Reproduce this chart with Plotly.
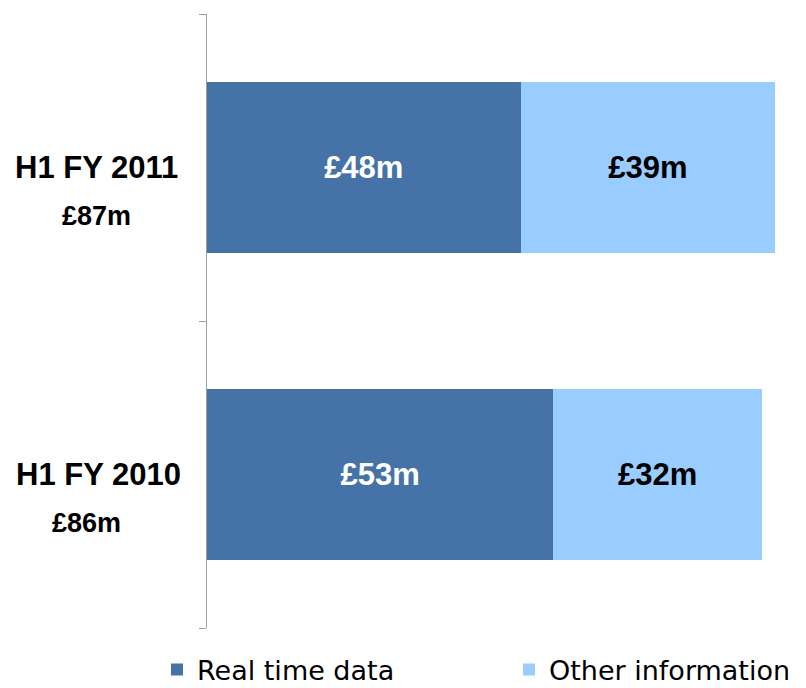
import plotly.graph_objects as go

categories = ["H1 FY 2010", "H1 FY 2011"]
totals = ["£86m", "£87m"]
real_time = [53, 48]
other_info = [32, 39]
series_names = ["Real time data", "Other information"]

dark = "#4573A7"
light = "#99CCFF"

fig = go.Figure()
fig.add_trace(go.Bar(
    y=categories, x=real_time, orientation="h", name=series_names[0],
    marker=dict(color=dark, line=dict(width=0)),
    text=[f"£{v}m" for v in real_time], textposition="inside",
    insidetextanchor="middle",
    textfont=dict(family="Liberation Sans", size=31, color="white", weight="bold"),
    hoverinfo="skip", legend="legend",
))
fig.add_trace(go.Bar(
    y=categories, x=other_info, orientation="h", name=series_names[1],
    marker=dict(color=light, line=dict(width=0)),
    text=[f"£{v}m" for v in other_info], textposition="inside",
    insidetextanchor="middle",
    textfont=dict(family="Liberation Sans", size=31, color="black", weight="bold"),
    hoverinfo="skip", legend="legend2",
))

annotations = []
label_x = [-0.181, -0.185]
total_x = [-0.201, -0.185]
for i, (cat, tot) in enumerate(zip(categories, totals)):
    annotations.append(dict(
        x=label_x[i], xref="paper", y=cat, yref="y", yshift=0,
        text=f"<b>{cat}</b>", showarrow=False, xanchor="center", yanchor="middle",
        font=dict(family="Liberation Sans", size=31, color="black"),
    ))
    annotations.append(dict(
        x=total_x[i], xref="paper", y=cat, yref="y", yshift=-48,
        text=f"<b>{tot}</b>", showarrow=False, xanchor="center", yanchor="middle",
        font=dict(family="Liberation Sans", size=27, color="black"),
    ))

legend_font = dict(family="DejaVu Sans", size=27, color="black")

fig.update_layout(
    width=806, height=688,
    margin=dict(l=207, r=0, t=14, b=60),
    barmode="stack",
    bargap=0.446,
    plot_bgcolor="white", paper_bgcolor="white",
    showlegend=True,
    legend=dict(
        orientation="h", xref="container", yref="container",
        x=157 / 806, xanchor="left", y=18 / 688, yanchor="middle",
        font=legend_font, bgcolor="rgba(0,0,0,0)",
    ),
    legend2=dict(
        orientation="h", xref="container", yref="container",
        x=509 / 806, xanchor="left", y=18 / 688, yanchor="middle",
        font=legend_font, bgcolor="rgba(0,0,0,0)",
    ),
    xaxis=dict(range=[0, 91.7], visible=False, fixedrange=True),
    yaxis=dict(
        categoryorder="array", categoryarray=categories,
        showline=True, linecolor="#A0A0A0", linewidth=1,
        ticks="outside", tickson="boundaries", ticklen=7, tickcolor="#A0A0A0",
        showticklabels=False, showgrid=False, zeroline=False, automargin=False,
        fixedrange=True,
    ),
    annotations=annotations,
)

fig.write_html("out.html", config={"displayModeBar": False},
               post_script="document.body.style.margin='0';")
